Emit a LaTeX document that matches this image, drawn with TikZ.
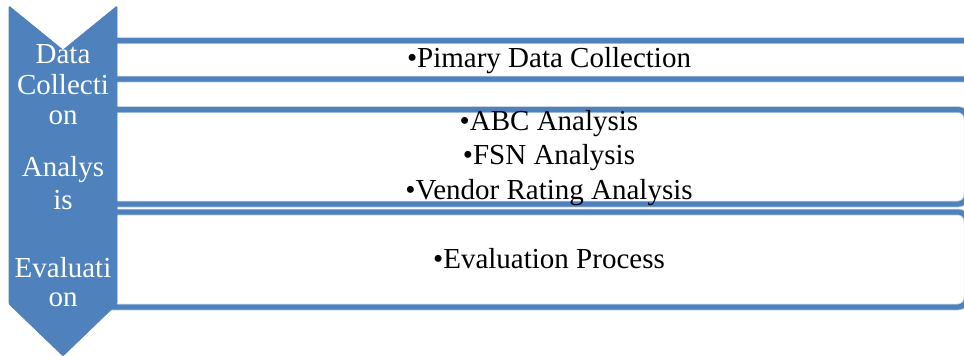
\documentclass[tikz,border=0pt]{standalone}
\usepackage{fontspec}
\setmainfont{Liberation Serif}
\definecolor{accent}{HTML}{4F81BD}
\definecolor{accentlight}{HTML}{A9C0DF}
\begin{document}
\begin{tikzpicture}[x=1pt,y=-1pt,
  chev/.style={fill=accent,draw=accent,line width=0.6pt,rounded corners=1pt},
  frame/.style={draw=accentlight,line width=6.5pt,rounded corners=9pt},
  frameinner/.style={draw=accent,line width=5pt,rounded corners=9pt},
  stagetext/.style={text=white,inner sep=0pt,anchor=base,font=\fontsize{29}{31}\selectfont},
  itemtext/.style={text=black,inner sep=0pt,anchor=base,font=\fontsize{29}{34.5}\selectfont}]
\useasboundingbox (0,0) rectangle (964,356);
\clip (0,0) rectangle (964,356);

% list frames (left sides sit behind the chevron)
\foreach \t/\b/\r in {40.5/79/990, 109.5/204/967, 212/307/967}{
  \draw[frame] (80,\t) rectangle (\r,\b);
  \draw[frameinner] (80,\t) rectangle (\r,\b);
}

% stage chevron
\path[chev] (9,6) -- (63,50) -- (117,6) -- (117,304) -- (63,356) -- (9,304) -- cycle;

% stage labels
\node[stagetext] (s1a) at (63,63) {Data};
\node[stagetext] (s1b) at (63,94) {Collecti};
\node[stagetext] (s1c) at (63,124) {on};
\node[stagetext] (s2a) at (63,176) {Analys};
\node[stagetext] (s2b) at (63,209) {is};
\node[stagetext] (s3a) at (63,277) {Evaluati};
\node[stagetext] (s3b) at (63,306) {on};

% list items
\node[itemtext] (i1) at (549,67) {•Pimary Data Collection};
\node[itemtext] (i2) at (549,130) {•ABC Analysis};
\node[itemtext] (i3) at (549,164) {•FSN Analysis};
\node[itemtext] (i4) at (549,199) {•Vendor Rating Analysis};
\node[itemtext] (i5) at (549,268) {•Evaluation Process};
\end{tikzpicture}
\end{document}
